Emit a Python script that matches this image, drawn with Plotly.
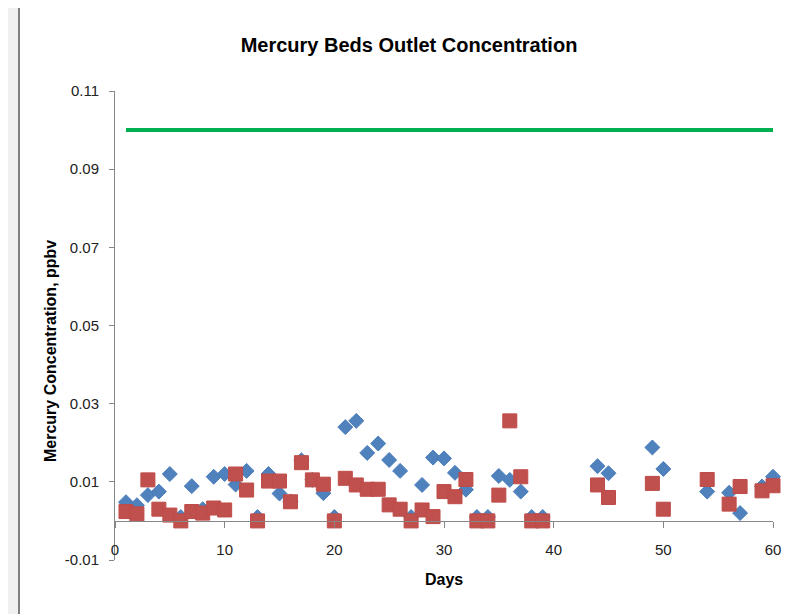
import plotly.graph_objects as go

days = [1, 2, 3, 4, 5, 6, 7, 8, 9, 10, 11, 12, 13, 14, 15, 16, 17, 18, 19, 20,
        21, 22, 23, 24, 25, 26, 27, 28, 29, 30, 31, 32, 33, 34, 35, 36, 37, 38, 39,
        44, 45, 49, 50, 54, 56, 57, 59, 60]

bed_a = [0.0048, 0.0040, 0.0066, 0.0075, 0.0120, 0.0010, 0.0089, 0.0030, 0.0113, 0.0120,
         0.0093, 0.0128, 0.0010, 0.0120, 0.0070, 0.0050, 0.0155, 0.0105, 0.0071, 0.0010,
         0.0240, 0.0256, 0.0174, 0.0198, 0.0156, 0.0128, 0.0010, 0.0092, 0.0162, 0.0160,
         0.0123, 0.0080, 0.0010, 0.0010, 0.0115, 0.0105, 0.0075, 0.0010, 0.0010,
         0.0140, 0.0122, 0.0188, 0.0133, 0.0075, 0.0072, 0.0020, 0.0088, 0.0113]

bed_b = [0.0024, 0.0018, 0.0105, 0.0030, 0.0015, 0.0000, 0.0024, 0.0020, 0.0033, 0.0028,
         0.0120, 0.0079, 0.0000, 0.0102, 0.0102, 0.0049, 0.0149, 0.0105, 0.0094, 0.0000,
         0.0109, 0.0092, 0.0081, 0.0081, 0.0041, 0.0030, 0.0000, 0.0028, 0.0011, 0.0075,
         0.0062, 0.0106, 0.0000, 0.0000, 0.0066, 0.0256, 0.0113, 0.0000, 0.0000,
         0.0092, 0.0060, 0.0096, 0.0030, 0.0106, 0.0043, 0.0088, 0.0077, 0.0090]

limit_days = [1, 60]
limit_values = [0.1, 0.1]

y_tickvals = [-0.01, 0.01, 0.03, 0.05, 0.07, 0.09, 0.11]
y_ticktext = ["-0.01", "0.01", "0.03", "0.05", "0.07", "0.09", "0.11"]
x_tickvals = [0, 10, 20, 30, 40, 50, 60]
x_ticktext = ["0", "10", "20", "30", "40", "50", "60"]

FONT = "Liberation Sans, Arial, sans-serif"
AXIS_GREY = "#868686"

# layout geometry (figure pixels)
L, R, T, B = 107, 35, 83, 62
PW, PH = 800 - L - R, 614 - T - B


def px(fx):
    return (fx - L) / PW


def py(fy):
    return (614 - B - fy) / PH


fig = go.Figure()
fig.add_trace(go.Scatter(
    x=days, y=bed_a, mode="markers",
    marker=dict(symbol="diamond", size=11.5, color="#4F81BD",
                line=dict(color="#4A7EBB", width=1)),
    showlegend=False, cliponaxis=False))
fig.add_trace(go.Scatter(
    x=days, y=bed_b, mode="markers",
    marker=dict(symbol="square", size=14, color="#C0504D",
                line=dict(color="#BE4B48", width=1)),
    showlegend=False, cliponaxis=False))
fig.add_trace(go.Scatter(
    x=limit_days, y=limit_values, mode="lines",
    line=dict(color="#00B050", width=4),
    showlegend=False))

y_min, y_max = -0.01, 0.11
fig.update_layout(
    width=800, height=614,
    margin=dict(l=L, r=R, t=T, b=B),
    paper_bgcolor="#F0F0F0",
    plot_bgcolor="rgba(0,0,0,0)",
    title=dict(text="Mercury Beds Outlet Concentration",
               x=401 / 800, xanchor="center", y=1 - 37 / 614, yanchor="middle",
               font=dict(family=FONT, size=20, color="#000000", weight="bold")),
    xaxis=dict(range=[0, 60], anchor="free", position=(0 - y_min) / (y_max - y_min),
               showgrid=False, zeroline=False, showline=True, linecolor=AXIS_GREY,
               linewidth=1, ticks="outside", ticklen=6, tickcolor=AXIS_GREY,
               tickvals=x_tickvals, ticktext=x_ticktext, ticklabelstandoff=9,
               tickfont=dict(family=FONT, size=15, color="#222222")),
    yaxis=dict(range=[y_min, y_max], showgrid=False, zeroline=False, showline=True,
               linecolor=AXIS_GREY, linewidth=1, ticks="outside", ticklen=5,
               tickcolor=AXIS_GREY, tickvals=y_tickvals, ticktext=y_ticktext,
               ticklabelstandoff=7,
               tickfont=dict(family=FONT, size=15, color="#222222")),
    shapes=[dict(type="rect", xref="paper", yref="paper",
                 x0=px(11), x1=px(791), y0=py(640), y1=py(-1),
                 line=dict(color="#7F7F7F", width=2), fillcolor="white", layer="below")],
    annotations=[
        dict(text="<b>Mercury Concentration, ppbv</b>", xref="paper", yref="paper",
             x=px(42), y=py(343), textangle=-90, showarrow=False,
             xanchor="center", yanchor="middle",
             font=dict(family=FONT, size=16, color="#000000")),
        dict(text="<b>Days</b>", xref="paper", yref="paper",
             x=0.5, y=py(571), showarrow=False, xanchor="center", yanchor="middle",
             font=dict(family=FONT, size=16, color="#000000")),
    ],
)

fig.write_html("out.html")
